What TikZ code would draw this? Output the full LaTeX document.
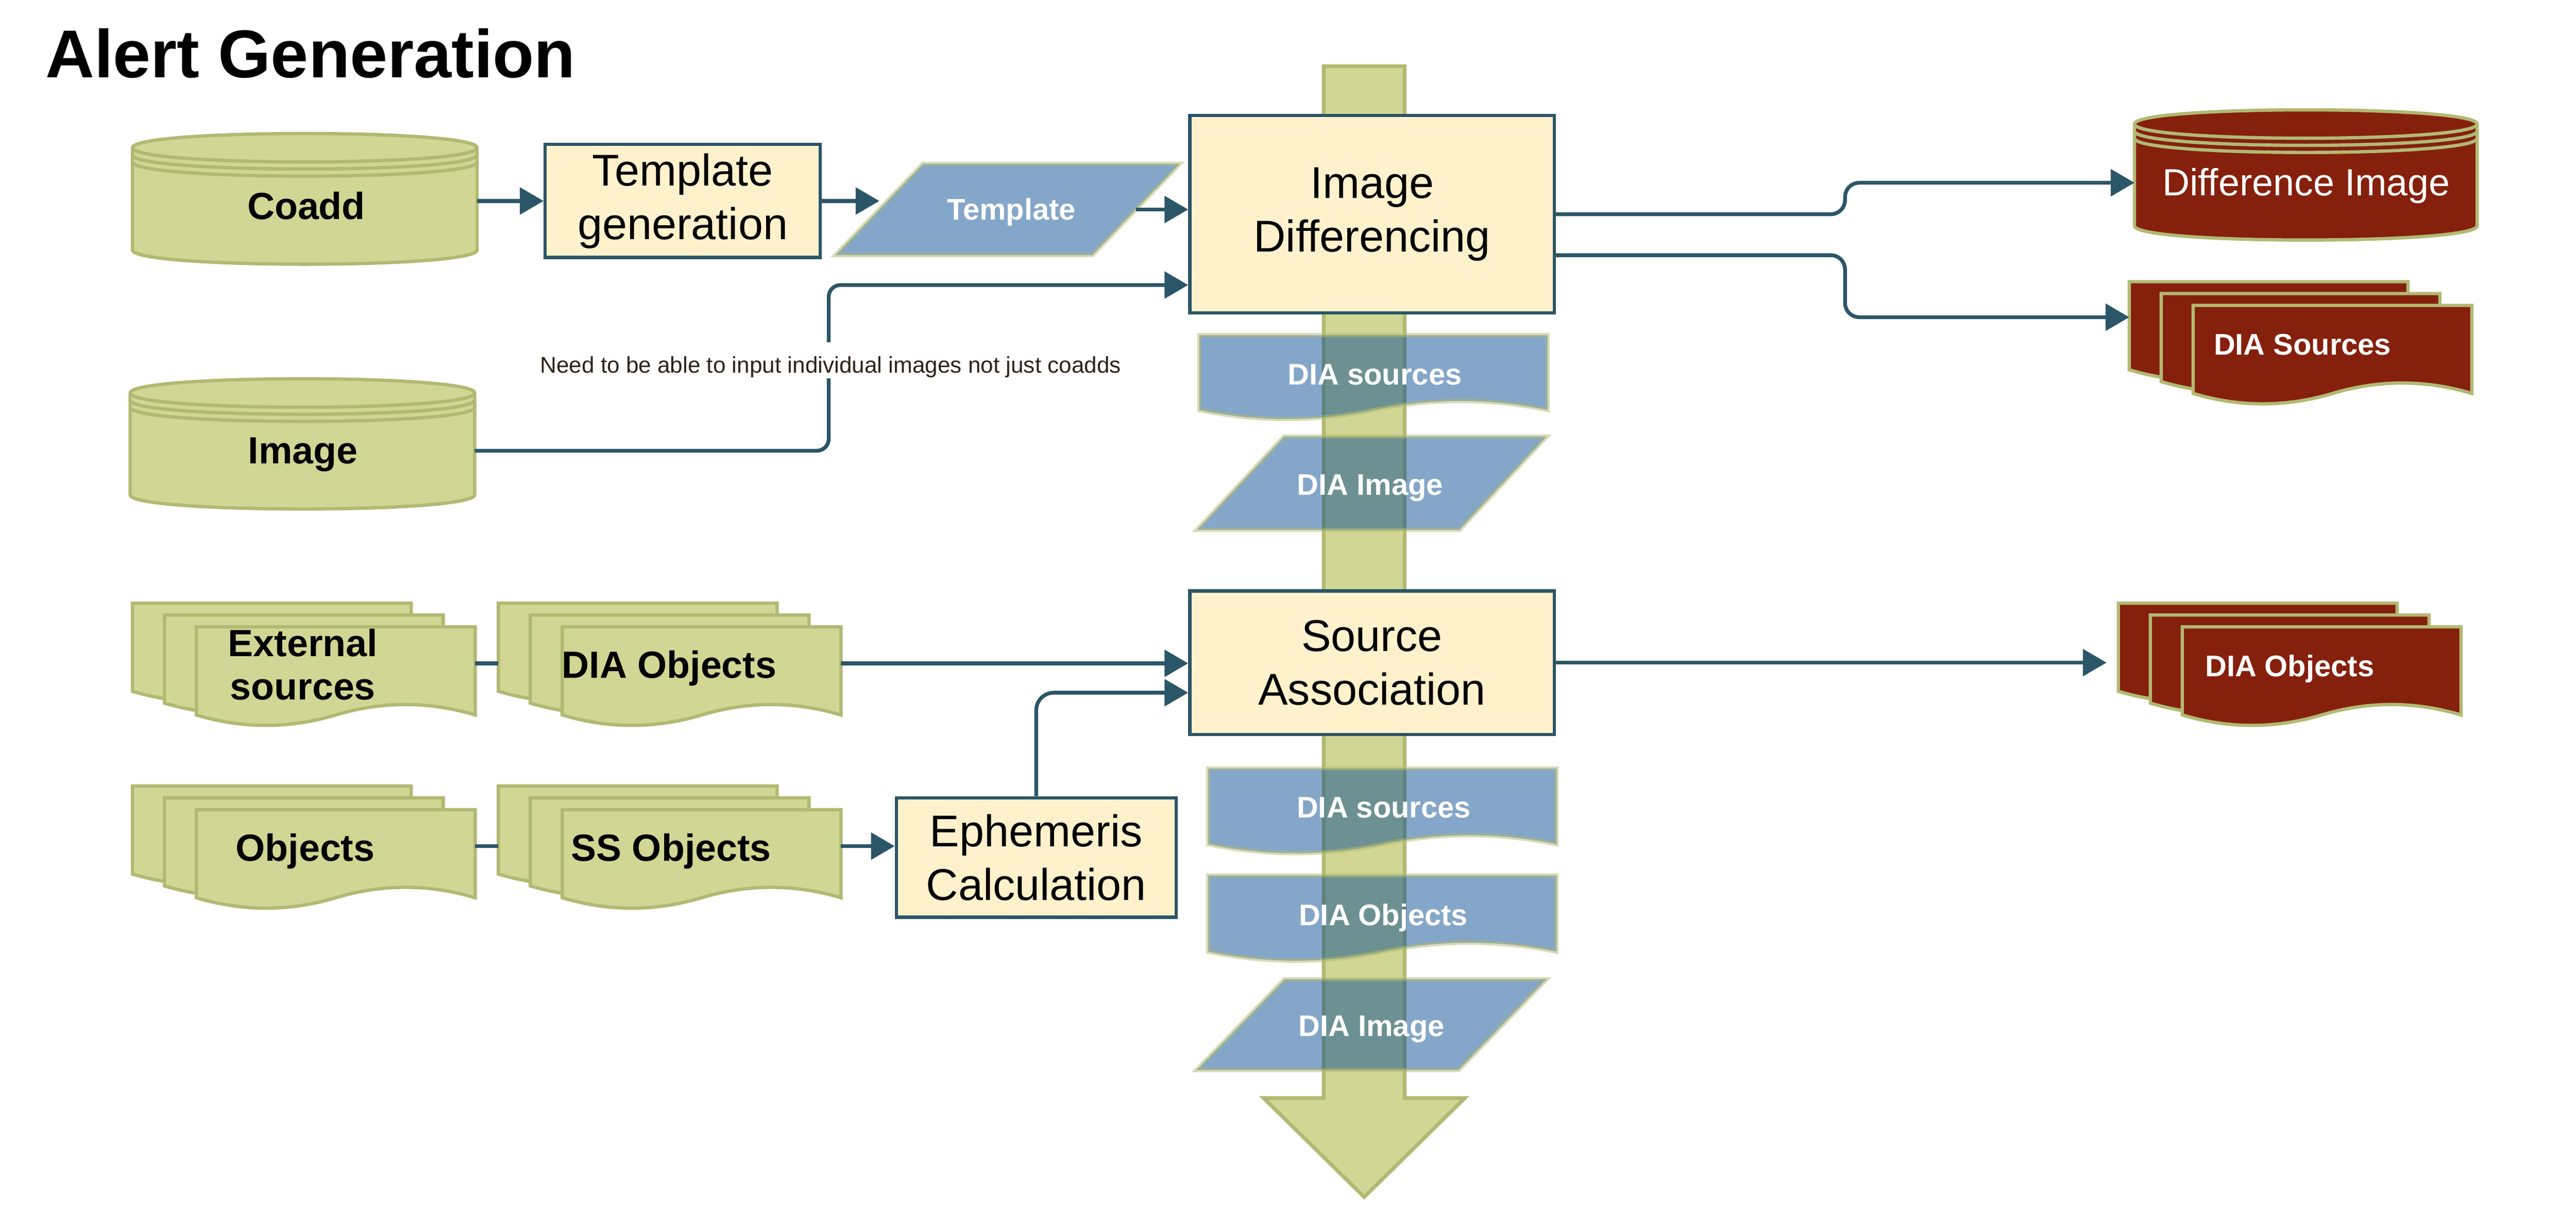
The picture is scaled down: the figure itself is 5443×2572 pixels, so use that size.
\documentclass[tikz,border=0pt]{standalone}
\usepackage{fontspec}
\setmainfont{Liberation Sans}
\usetikzlibrary{arrows.meta,calc}
\definecolor{lnteal}{RGB}{43,86,103}
\definecolor{cream}{RGB}{255,241,204}
\definecolor{olfill}{RGB}{209,214,148}
\definecolor{olline}{RGB}{178,185,114}
\definecolor{bluebase}{RGB}{10,78,145}
\definecolor{redfill}{RGB}{133,32,13}
\definecolor{notetext}{RGB}{45,35,25}
% document shape: L, T, W, H, A, style
\newcommand\docshape[6]{%
  \filldraw[#6] ({#1},{#2}) -- ({#1+#3},{#2}) -- ({#1+#3},{#2+#4})
    .. controls ({#1+#3-#3/6},{#2+#4-4*#5/3}) and ({#1+#3-#3/3},{#2+#4-4*#5/3}) .. ({#1+#3/2},{#2+#4})
    .. controls ({#1+#3/3},{#2+#4+4*#5/3}) and ({#1+#3/6},{#2+#4+4*#5/3}) .. ({#1},{#2+#4}) -- cycle;}
\newcommand\docstack[3]{%
  \docshape{#1}{#2}{589}{186}{22}{#3}
  \docshape{#1+67.5}{#2+25}{589}{186}{22}{#3}
  \docshape{#1+135}{#2+50}{589}{186}{22}{#3}}
% cylinder: L, T, R, B, style
\newcommand\cylshape[5]{%
  \filldraw[#5] ({#1},{#2+30}) -- ({#1},{#4-30})
    .. controls ({#1},{#4+10}) and ({#3},{#4+10}) .. ({#3},{#4-30})
    -- ({#3},{#2+30})
    .. controls ({#3},{#2-10}) and ({#1},{#2-10}) .. ({#1},{#2+30}) -- cycle;
  \draw[#5,fill=none] ({#1},{#2+30}) .. controls ({#1},{#2+70}) and ({#3},{#2+70}) .. ({#3},{#2+30});
  \draw[#5,fill=none] ({#1},{#2+45}) .. controls ({#1},{#2+85}) and ({#3},{#2+85}) .. ({#3},{#2+45});
  \draw[#5,fill=none] ({#1},{#2+60}) .. controls ({#1},{#2+100}) and ({#3},{#2+100}) .. ({#3},{#2+60});}
\begin{document}
\begin{tikzpicture}[x=0.1pt,y=-0.1pt,
  olshape/.style={fill=olfill,draw=olline,line width=0.7pt},
  redshape/.style={fill=redfill,draw=olline,line width=0.7pt},
  blueshape/.style={fill=bluebase,draw=olline,line width=0.9pt,opacity=0.5},
  bigarrow/.style={fill=olfill,draw=olline,line width=0.8pt},
  procbox/.style={draw=lnteal,fill=cream,line width=0.7pt,align=center,inner sep=0pt,
    font=\fontsize{9.4}{11.3}\selectfont},
  hid/.style={inner sep=0pt,outer sep=0pt},
  doctext/.style={inner sep=0pt,font=\bfseries\fontsize{8}{9.1}\selectfont},
  bluetext/.style={inner sep=0pt,text=white,font=\bfseries\fontsize{6.3}{7.5}\selectfont},
  redtext/.style={inner sep=0pt,text=white,font=\fontsize{8}{9.6}\selectfont},
  conn/.style={draw=lnteal,line width=0.8pt,-{Triangle[length=5pt,width=5.6pt]}},
  plainconn/.style={draw=lnteal,line width=0.8pt},
  notestyle/.style={fill=white,text=notetext,font=\fontsize{4.8}{5.8}\selectfont,
    inner xsep=1pt,inner ysep=0pt,text height=6.5pt,text depth=1.1pt}
]
\useasboundingbox (0,0) rectangle (5443,2572);

% big flow arrow
\filldraw[bigarrow] (2797,140) -- (2968,140) -- (2968,2319) -- (3095,2319)
  -- (2882.5,2528) -- (2670,2319) -- (2797,2319) -- cycle;

% title
\node[anchor=base west,inner sep=0pt,font=\bfseries\fontsize{14.3}{17}\selectfont] (title) at (94,164) {Alert Generation};

% cylinders
\cylshape{280}{282}{1008}{558}{olshape}
\node[hid,minimum width=72.8pt,minimum height=27.6pt] (coadd) at (644,435) {};
\node[doctext,anchor=base] (coadd-t) at (647,463) {Coadd};

\cylshape{275}{800}{1003}{1075}{olshape}
\node[hid,minimum width=72.8pt,minimum height=27.5pt] (image) at (639,952) {};
\node[doctext,anchor=base] (image-t) at (640,979) {Image};

\cylshape{4510}{232}{5234}{507}{redshape}
\node[hid,minimum width=72.4pt,minimum height=27.5pt] (diffimg) at (4872,386) {};
\node[redtext,anchor=base] (diffimg-t) at (4873,413) {Difference Image};

% process boxes
\node[procbox,minimum width=58.1pt,minimum height=23.9pt] (tgen) at (1442.5,424.5) {Template\\generation};
\node[procbox,minimum width=77pt,minimum height=41.7pt] (imgdiff) at (2899,452.5) {Image\\Differencing};
\node[procbox,minimum width=77pt,minimum height=30.3pt] (srcassoc) at (2899,1399.5) {Source\\Association};
\node[procbox,minimum width=59.1pt,minimum height=25.2pt] (eph) at (2189.5,1811) {Ephemeris\\Calculation};

% template parallelogram
\filldraw[blueshape] (1950,346) -- (2493,346) -- (2308,539) -- (1765,539) -- cycle;
\node[hid,minimum width=54.2pt,minimum height=19.3pt] (tmpl) at (2129,442.5) {};
\node[bluetext,anchor=base] (tmpl-t) at (2137,464) {Template};

% blue data along the flow
\docshape{2534}{708}{736}{158}{19}{blueshape}
\node[bluetext,anchor=base] (dsrc1) at (2905,813) {DIA sources};
\filldraw[blueshape] (2713,922) -- (3268,922) -- (3084,1119) -- (2529,1119) -- cycle;
\node[bluetext,anchor=base] (dimg1) at (2895,1046) {DIA Image};

\docshape{2553}{1623}{736}{160}{19}{blueshape}
\node[bluetext,anchor=base] (dsrc2) at (2924,1727) {DIA sources};
\docshape{2553}{1849}{736}{161}{19}{blueshape}
\node[bluetext,anchor=base] (dobj2) at (2923,1955) {DIA Objects};
\filldraw[blueshape] (2714,2068) -- (3268,2068) -- (3082,2260) -- (2528,2260) -- cycle;
\node[bluetext,anchor=base] (dimg2) at (2898,2189) {DIA Image};

% document stacks
\docstack{280}{1274}{olshape}
\node[hid,minimum width=72.4pt,minimum height=25.8pt] (ext) at (642,1401) {};
\node[doctext,align=center] (ext-t) at (640,1403.5) {External\\sources};

\docstack{1053}{1274}{olshape}
\node[hid,minimum width=72.4pt,minimum height=25.8pt] (diaobjA) at (1415,1401) {};
\node[doctext,anchor=base] (diaobjA-t) at (1414,1432) {DIA Objects};

\docstack{280}{1660}{olshape}
\node[hid,minimum width=72.4pt,minimum height=25.8pt] (obj) at (642,1787) {};
\node[doctext,anchor=base] (obj-t) at (645,1818) {Objects};

\docstack{1053}{1660}{olshape}
\node[hid,minimum width=72.4pt,minimum height=25.8pt] (ssobj) at (1415,1787) {};
\node[doctext,anchor=base] (ssobj-t) at (1418,1818) {SS Objects};

\docstack{4476}{1274}{redshape}
\node[hid,minimum width=72.4pt,minimum height=25.8pt] (diaobjR) at (4838,1401) {};
\node[bluetext,anchor=base] (diaobjR-t) at (4838,1429) {DIA Objects};

\docstack{4499}{595}{redshape}
\node[hid,minimum width=72.4pt,minimum height=25.8pt] (diasrcR) at (4861,722) {};
\node[bluetext,anchor=base] (diasrcR-t) at (4865,750) {DIA Sources};

% connectors
\coordinate (imgbend) at (1751,602);
\draw[conn] (coadd.east |- tgen.west) -- (tgen.west);
\draw[conn] (tgen.east) -- (tgen.east -| tmpl.west);
\draw[conn] (tmpl.east) -- (tmpl.east -| imgdiff.west);
\draw[conn,rounded corners=2.5pt] (image.east) -| (imgbend) -- (imgbend -| imgdiff.west);
\draw[conn,rounded corners=3pt] (imgdiff.east) -- ++(611,0) |- (diffimg.west);
\draw[conn,rounded corners=3pt] ([yshift=-8.65pt]imgdiff.east) -- ++(611,0) |- ([yshift=5.2pt]diasrcR.west);
\draw[plainconn] (ext.east) -- (diaobjA.west);
\draw[plainconn] (obj.east) -- (ssobj.west);
\draw[conn] (diaobjA.east) -- (diaobjA.east -| srcassoc.west);
\draw[conn] (ssobj.east) -- (ssobj.east -| eph.west);
\draw[conn,rounded corners=3.7pt] (eph.north) |- ([yshift=-6.35pt]srcassoc.west);
\draw[conn,shorten >=2.5pt] (srcassoc.east) -- (srcassoc.east -| diaobjR.west);

% note on the image connector
\node[notestyle,anchor=base] (note) at (1755,788) {Need to be able to input individual images not just coadds};
\end{tikzpicture}
\end{document}
